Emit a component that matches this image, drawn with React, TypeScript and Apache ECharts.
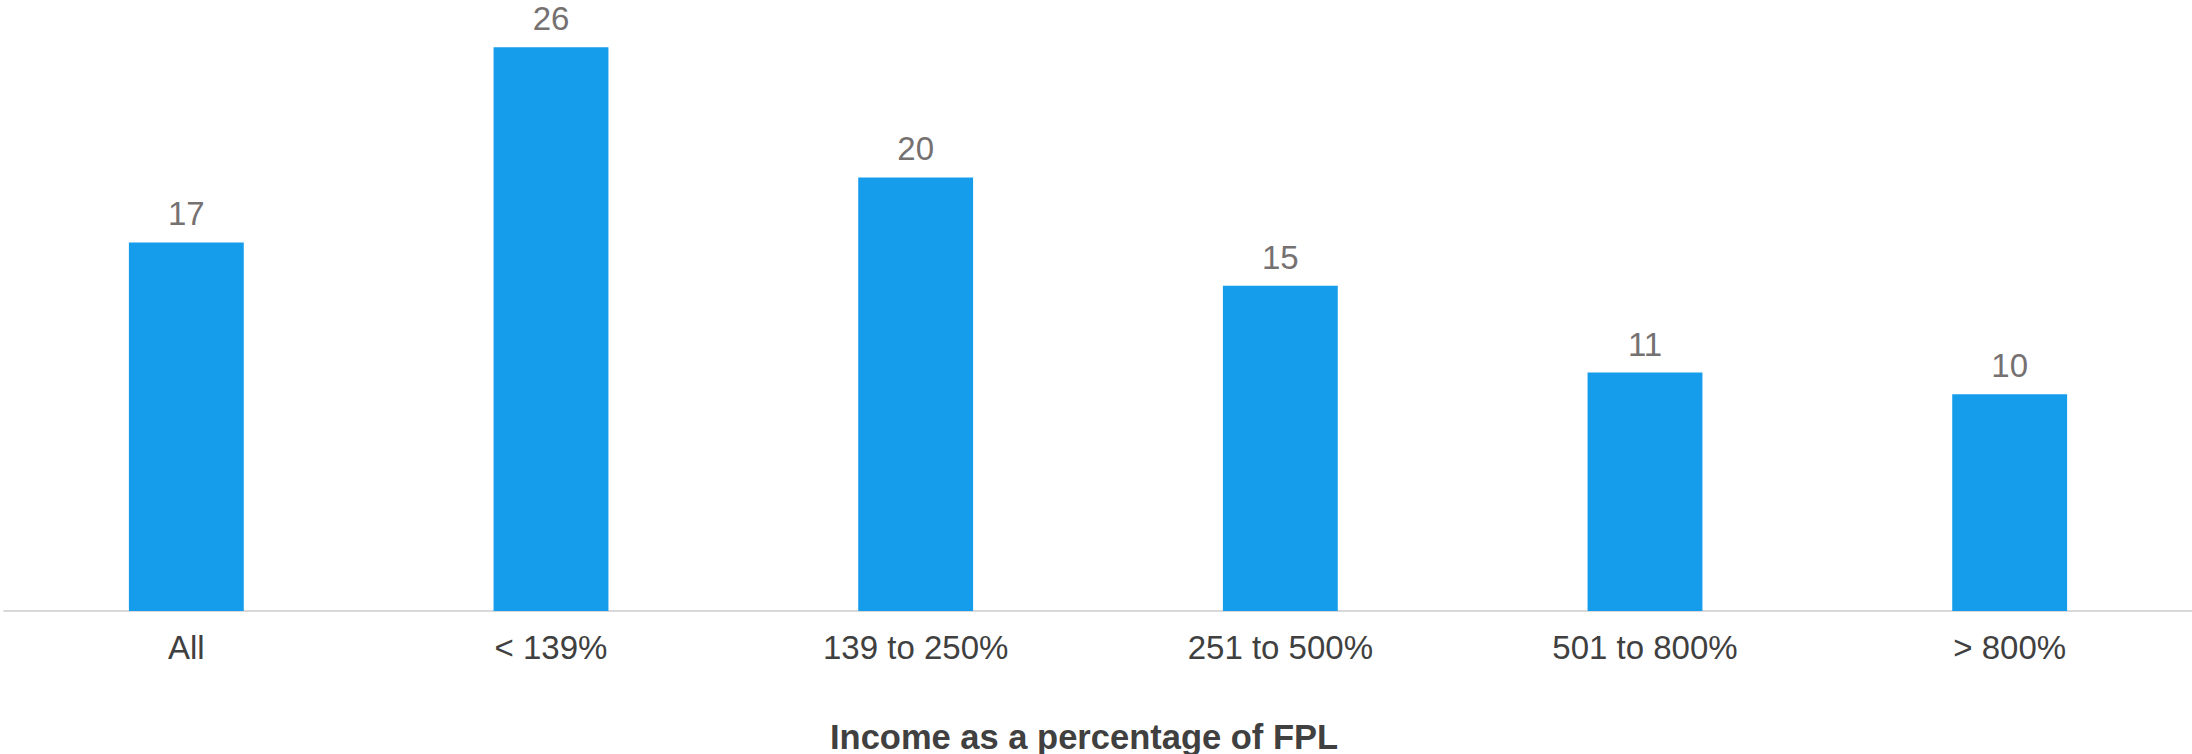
import React, { useEffect, useRef } from "react";
import * as echarts from "echarts";

const categories = ["All", "< 139%", "139 to 250%", "251 to 500%", "501 to 800%", "> 800%"];
const values = [17, 26, 20, 15, 11, 10];
const axisTitle = "Income as a percentage of FPL";

export default function App() {
  const ref = useRef<HTMLDivElement>(null);
  useEffect(() => {
    if (!ref.current) return;
    const chart = echarts.init(ref.current, null, { renderer: "svg" });
    chart.setOption({
      animation: false,
      backgroundColor: "#ffffff",
      title: {
        text: axisTitle,
        left: 825,
        top: 714,
        textStyle: {
          fontFamily: "Liberation Sans",
          fontSize: 34.5,
          fontWeight: "bold",
          color: "#404040",
        },
      },
      grid: { left: 4, right: 0, top: 4, bottom: 143, containLabel: false },
      xAxis: {
        type: "category",
        data: categories,
        axisLine: { show: true, lineStyle: { color: "#D9D9D9", width: 2 } },
        axisTick: { show: false },
        axisLabel: {
          margin: 20,
          fontFamily: "Liberation Sans",
          fontSize: 33,
          color: "#404040",
        },
      },
      yAxis: {
        type: "value",
        min: 0,
        max: 28,
        show: false,
        splitLine: { show: false },
      },
      series: [
        {
          type: "bar",
          data: values,
          barWidth: "31.5%",
          itemStyle: { color: "#159DEC" },
          label: {
            show: true,
            position: "top",
            distance: 12,
            fontFamily: "Liberation Sans",
            fontSize: 33,
            color: "#767171",
          },
        },
      ],
    });
    return () => chart.dispose();
  }, []);
  return (
    <div
      ref={ref}
      style={{ position: "fixed", left: 0, top: 0, width: 2192, height: 754 }}
    />
  );
}
